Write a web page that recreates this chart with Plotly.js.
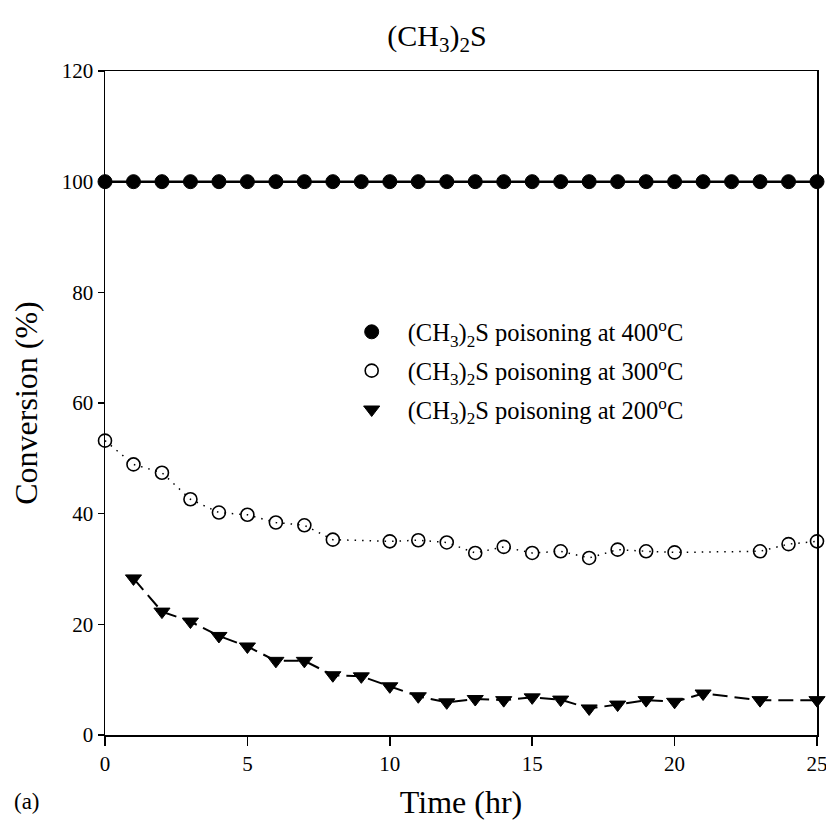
<!DOCTYPE html>
<html>
<head>
<meta charset="utf-8">
<script src="https://cdn.plot.ly/plotly-3.0.1.min.js"></script>
<style>html,body{margin:0;padding:0;background:#fff;}#chart{width:826px;height:828px;}</style>
</head>
<body>
<div id="chart"></div>
<script>
// Data
const time400 = [0,1,2,3,4,5,6,7,8,9,10,11,12,13,14,15,16,17,18,19,20,21,22,23,24,25];
const conv400 = [100,100,100,100,100,100,100,100,100,100,100,100,100,100,100,100,100,100,100,100,100,100,100,100,100,100];

const time300 = [0,1,2,3,4,5,6,7,8,10,11,12,13,14,15,16,17,18,19,20,23,24,25];
const conv300 = [53.2,48.9,47.4,42.6,40.2,39.8,38.4,37.9,35.3,35.0,35.2,34.8,32.9,34.0,32.9,33.2,32.0,33.5,33.2,33.0,33.2,34.5,35.0];

const time200 = [1,2,3,4,5,6,7,8,9,10,11,12,13,14,15,16,17,18,19,20,21,23,25];
const conv200 = [28.3,22.3,20.5,17.9,16.0,13.4,13.4,10.8,10.6,8.8,7.0,5.9,6.5,6.3,6.8,6.4,4.8,5.5,6.3,6.0,7.5,6.3,6.3];

const seriesNames = [
  '(CH<sub>3</sub>)<sub>2</sub>S poisoning at 400<sup>o</sup>C',
  '(CH<sub>3</sub>)<sub>2</sub>S poisoning at 300<sup>o</sup>C',
  '(CH<sub>3</sub>)<sub>2</sub>S poisoning at 200<sup>o</sup>C'
];
const xTicks = [0,5,10,15,20,25];
const yTicks = [0,20,40,60,80,100,120];

const FONT = 'Liberation Serif, Times New Roman, serif';

const traces = [
  // connecting lines (not in legend)
  {x: time400, y: conv400, mode: 'lines', line: {color: '#000', width: 2.5}, showlegend: false, hoverinfo: 'skip', cliponaxis: false},
  {x: time300, y: conv300, mode: 'lines', line: {color: '#000', width: 1.5, dash: '1.5px,6px'}, showlegend: false, hoverinfo: 'skip', cliponaxis: false},
  {x: time200, y: conv200, mode: 'lines', line: {color: '#000', width: 2, dash: '15px,7px'}, showlegend: false, hoverinfo: 'skip', cliponaxis: false},
  // markers (legend)
  {x: time400, y: conv400, mode: 'markers', name: seriesNames[0], cliponaxis: false, legendgroup: 'a',
   marker: {symbol: 'circle', size: 14, color: '#000', line: {color: '#000', width: 1}}},
  {x: time300, y: conv300, mode: 'markers', name: seriesNames[1], cliponaxis: false, legendgroup: 'b',
   marker: {symbol: 'circle-open', size: 13, color: '#000', line: {color: '#000', width: 1.6}}},
  {x: time200, y: conv200, mode: 'markers', name: seriesNames[2], cliponaxis: false, legendgroup: 'c',
   marker: {symbol: 'triangle-down', size: 14, color: '#000', line: {color: '#000', width: 1}}}
];

const layout = {
  width: 826, height: 828,
  margin: {l: 105, r: 9, t: 71, b: 93},
  paper_bgcolor: '#fff', plot_bgcolor: '#fff',
  font: {family: FONT, color: '#000', size: 20},
  title: {text: '(CH<sub>3</sub>)<sub>2</sub>S', font: {family: FONT, size: 30, color: '#000'}, x: 0.529, xanchor: 'center', y: 0.957, yanchor: 'middle'},
  xaxis: {
    range: [0, 25], tickvals: xTicks, ticktext: xTicks.map(String),
    showgrid: false, zeroline: false, showline: true, linecolor: '#000', linewidth: 1.5, mirror: true,
    ticks: 'outside', ticklen: 9, tickwidth: 1.5, tickcolor: '#000', ticklabeloverflow: 'allow',
    tickfont: {family: FONT, size: 21, color: '#000'},
    title: {text: 'Time (hr)', font: {family: FONT, size: 32, color: '#000'}, standoff: 16}
  },
  yaxis: {
    range: [0, 120], tickvals: yTicks, ticktext: yTicks.map(String),
    showgrid: false, zeroline: false, showline: true, linecolor: '#000', linewidth: 1.5, mirror: true,
    ticks: 'outside', ticklen: 6, tickwidth: 1.5, tickcolor: '#000', ticklabeloverflow: 'allow',
    tickfont: {family: FONT, size: 21, color: '#000'},
    title: {text: 'Conversion (%)', font: {family: FONT, size: 32, color: '#000'}, standoff: 14}
  },
  legend: {
    x: 0.324, y: 0.641, xanchor: 'left', yanchor: 'top',
    bgcolor: 'rgba(0,0,0,0)', borderwidth: 0,
    font: {family: FONT, size: 24.5, color: '#000'},
    tracegroupgap: 4, itemwidth: 62
  },
  annotations: [
    {text: '(a)', xref: 'paper', yref: 'paper', x: -0.13, y: -0.1, xanchor: 'left', yanchor: 'middle', showarrow: false,
     font: {family: FONT, size: 23, color: '#000'}}
  ]
};

Plotly.newPlot('chart', traces, layout, {displayModeBar: false, staticPlot: true});
</script>
</body>
</html>
